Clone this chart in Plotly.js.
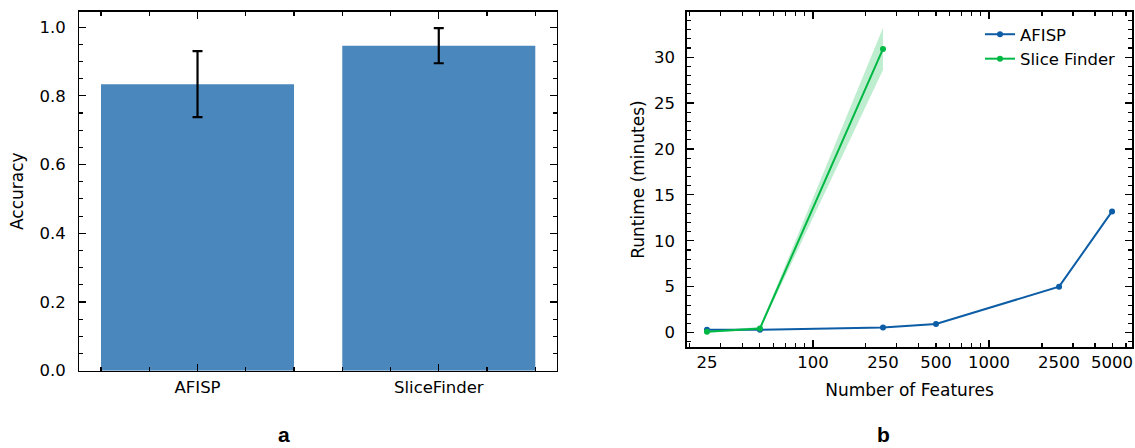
<!DOCTYPE html>
<html>
<head>
<meta charset="utf-8">
<script src="https://cdn.plot.ly/plotly-3.0.1.min.js"></script>
<style>
  html, body { margin: 0; padding: 0; background: #ffffff; }
  #chart { width: 1135px; height: 448px; }
</style>
</head>
<body>
<div id="chart"></div>
<script>
// ---- Panel a: accuracy ----
const accCategories = ['AFISP', 'SliceFinder'];
const accMean = [0.834, 0.946];
const accErr = [0.096, 0.051];

// ---- Panel b: runtime ----
const afispFeatures = [25, 50, 250, 500, 2500, 5000];
const afispRuntime = [0.3, 0.3, 0.55, 0.95, 5.0, 13.2];
const sfFeatures = [25, 50, 250];
const sfRuntime = [0.1, 0.45, 30.9];
const sfLower = [0.02, 0.3, 28.6];
const sfUpper = [0.2, 0.6, 33.2];

const featureTickVals = [25, 100, 250, 500, 1000, 2500, 5000];
const featureTickText = ['25', '100', '250', '500', '1000', '2500', '5000'];
const featureMinorTicks = [20, 30, 40, 50, 60, 70, 80, 90, 200, 300, 400, 500, 600, 700, 800, 900, 2000, 3000, 4000, 5000, 6000];
const featureDecadeTicks = [100, 1000];

const panelLabels = ['a', 'b'];

const FONT = 'DejaVu Sans, sans-serif';
const BLUE = '#0C5DA5';
const GREEN = '#00B945';
const BAR = '#4A87BC';

const accIdx = accCategories.map((_, i) => i);

const traces = [
  {
    type: 'bar', x: accIdx, y: accMean, width: 0.8,
    marker: { color: BAR, line: { width: 0 } },
    error_y: { type: 'data', array: accErr, visible: true, color: '#000000', thickness: 2.2, width: 5 },
    xaxis: 'x', yaxis: 'y', showlegend: false, hoverinfo: 'skip'
  },
  // Slice Finder band
  {
    type: 'scatter', x: sfFeatures, y: sfLower, mode: 'lines', line: { width: 0, color: 'rgba(0,0,0,0)' },
    xaxis: 'x2', yaxis: 'y2', showlegend: false, hoverinfo: 'skip'
  },
  {
    type: 'scatter', x: sfFeatures, y: sfUpper, mode: 'lines', line: { width: 0, color: 'rgba(0,0,0,0)' },
    fill: 'tonexty', fillcolor: 'rgba(0,185,69,0.25)',
    xaxis: 'x2', yaxis: 'y2', showlegend: false, hoverinfo: 'skip'
  },
  {
    type: 'scatter', x: afispFeatures, y: afispRuntime, mode: 'lines+markers', name: 'AFISP',
    line: { color: BLUE, width: 2 }, marker: { color: BLUE, size: 6 },
    xaxis: 'x2', yaxis: 'y2'
  },
  {
    type: 'scatter', x: sfFeatures, y: sfRuntime, mode: 'lines+markers', name: 'Slice Finder',
    line: { color: GREEN, width: 2 }, marker: { color: GREEN, size: 6 },
    xaxis: 'x2', yaxis: 'y2'
  },
  // carrier for the decade-tick overlay axis
  {
    type: 'scatter', x: [featureDecadeTicks[0]], y: [0], mode: 'markers', marker: { opacity: 0 },
    xaxis: 'x3', yaxis: 'y2', showlegend: false, hoverinfo: 'skip'
  }
];

const yTop = 1 - 11.7 / 448;
const axisCommon = {
  showline: true, linecolor: '#000000', linewidth: 1.3, mirror: 'ticks',
  ticks: 'inside', ticklen: 7, tickwidth: 1.2, tickcolor: '#000000',
  showgrid: false, zeroline: false,
  tickfont: { family: FONT, size: 16.5, color: '#000000' }
};
const minorCommon = { ticks: 'inside', ticklen: 4, tickwidth: 1.1, tickcolor: '#000000', showgrid: false };
const titleFont = { family: FONT, size: 17, color: '#000000' };

const logRange = [Math.log10(25) - 0.115, Math.log10(5000) + 0.115];

const panelFont = { family: 'Liberation Sans, Arial, sans-serif', size: 21, color: '#000000' };

const layout = {
  width: 1135, height: 448,
  margin: { l: 0, r: 0, t: 0, b: 0 },
  paper_bgcolor: '#ffffff', plot_bgcolor: '#ffffff',
  font: { family: FONT, size: 16, color: '#000000' },
  xaxis: Object.assign({}, axisCommon, {
    domain: [79.3 / 1135, 557 / 1135], anchor: 'y',
    range: [-0.49, 1.49], tickmode: 'array', tickvals: accIdx, ticktext: accCategories,
    ticklabelstandoff: 1,
    minor: Object.assign({}, minorCommon, { tickmode: 'linear', tick0: 0, dtick: 0.2 })
  }),
  yaxis: Object.assign({}, axisCommon, {
    domain: [1 - 370.7 / 448, yTop], anchor: 'x',
    range: [0, 1.045], tickmode: 'linear', tick0: 0, dtick: 0.2, tickformat: '.1f',
    ticklabelstandoff: 9,
    title: { text: 'Accuracy', font: titleFont, standoff: 11 },
    minor: Object.assign({}, minorCommon, { tickmode: 'linear', tick0: 0, dtick: 0.05 })
  }),
  xaxis2: Object.assign({}, axisCommon, {
    domain: [686.7 / 1135, 1132.3 / 1135], anchor: 'y2', type: 'log',
    range: logRange, tickmode: 'array', tickvals: featureTickVals, ticktext: featureTickText,
    ticks: '', ticklabelstandoff: 0,
    title: { text: 'Number of Features', font: titleFont, standoff: 12 },
    minor: Object.assign({}, minorCommon, { tickmode: 'array', tickvals: featureMinorTicks })
  }),
  xaxis3: {
    overlaying: 'x2', anchor: 'y2', type: 'log', range: logRange,
    showline: false, showgrid: false, zeroline: false, showticklabels: false,
    ticks: 'inside', ticklen: 7, tickwidth: 1.2, tickcolor: '#000000', mirror: 'ticks',
    tickmode: 'array', tickvals: featureDecadeTicks, side: 'bottom'
  },
  yaxis2: Object.assign({}, axisCommon, {
    domain: [1 - 347.3 / 448, yTop], anchor: 'x2',
    range: [-1.6, 34.95], tickmode: 'linear', tick0: 0, dtick: 5,
    ticklabelstandoff: 7,
    title: { text: 'Runtime (minutes)', font: titleFont, standoff: 5 },
    minor: Object.assign({}, minorCommon, { tickmode: 'linear', tick0: 0, dtick: 1 })
  }),
  legend: {
    x: 980 / 1135, y: 1 - 17 / 448, xanchor: 'left', yanchor: 'top',
    traceorder: 'normal',
    bgcolor: 'rgba(255,255,255,0)', borderwidth: 0,
    font: { family: FONT, size: 16.5, color: '#000000' }
  },
  annotations: [
    { text: '<b>' + panelLabels[0] + '</b>', xref: 'paper', yref: 'paper', x: 283.6 / 1135, y: 1 - 447 / 448,
      xanchor: 'center', yanchor: 'bottom', showarrow: false, borderpad: 0, font: panelFont },
    { text: '<b>' + panelLabels[1] + '</b>', xref: 'paper', yref: 'paper', x: 883.6 / 1135, y: 1 - 447 / 448,
      xanchor: 'center', yanchor: 'bottom', showarrow: false, borderpad: 0, font: panelFont }
  ],
  showlegend: true
};

Plotly.newPlot('chart', traces, layout, { staticPlot: true, displayModeBar: false });
</script>
</body>
</html>
